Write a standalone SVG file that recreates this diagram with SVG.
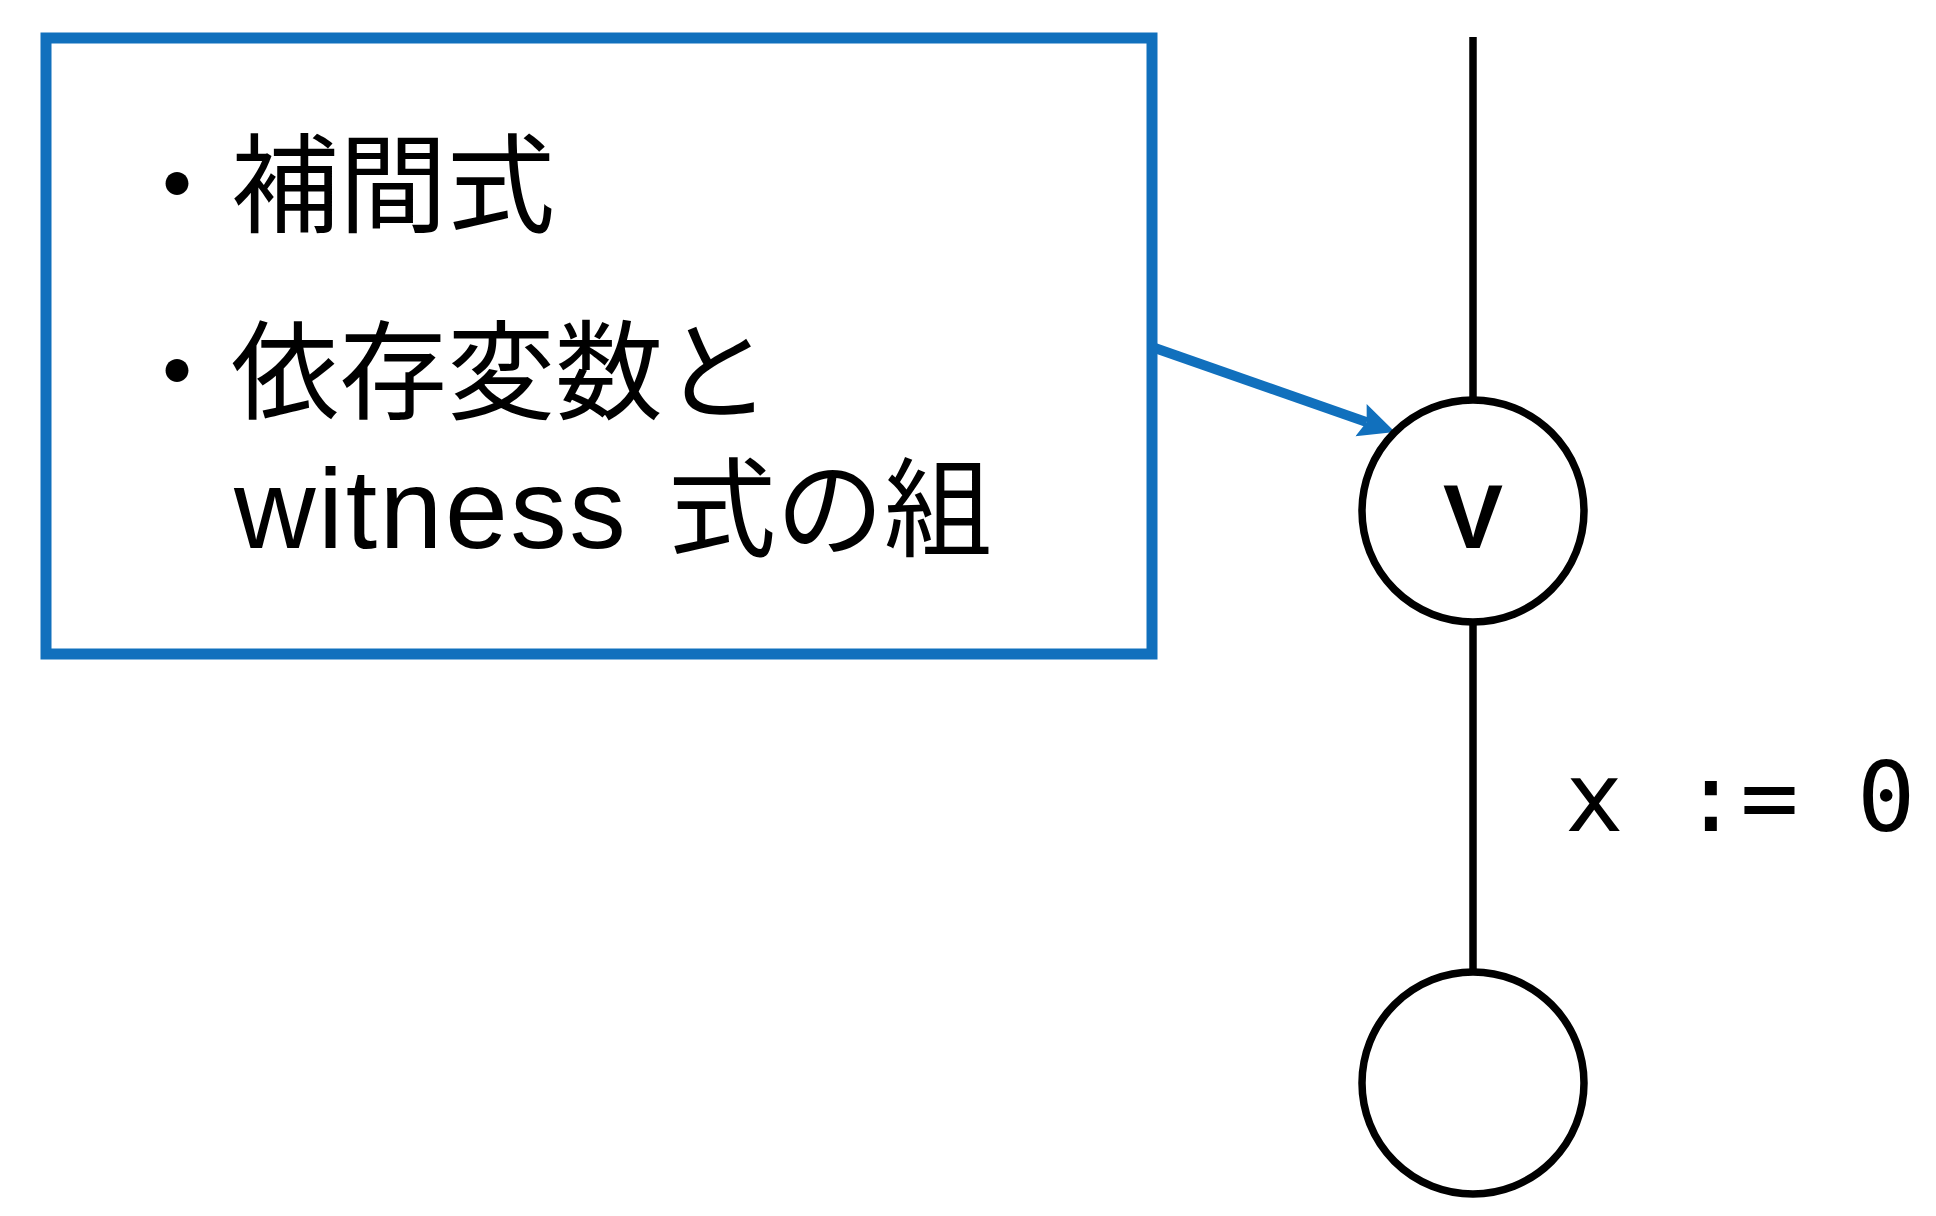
<svg xmlns="http://www.w3.org/2000/svg" width="1936" height="1216" viewBox="0 0 1936 1216">
  <style>
    .jp { font-family: "Noto Sans CJK JP", "Noto Sans CJK SC", sans-serif; font-size: 108px; fill: #000; }
    .lat { font-family: "Liberation Sans", Arial, sans-serif; font-size: 113px; letter-spacing: 2.5px; }
    .node { fill: #fff; stroke: #000; stroke-width: 7.5; }
    .edge { stroke: #000; stroke-width: 7.5; fill: none; }
    .blue { stroke: #1170bd; stroke-width: 10; fill: none; }
    .lbl { font-family: "DejaVu Sans Mono", "Liberation Mono", monospace; font-size: 97px; fill: #000; }
    .nodetxt { font-family: "Liberation Sans", Arial, sans-serif; font-size: 90px; font-weight: bold; fill: #000; text-anchor: middle; }
  </style>
  <defs>
    <marker id="ah" markerUnits="userSpaceOnUse" markerWidth="40" markerHeight="36" refX="6" refY="17" orient="auto">
      <path d="M0,0 L36,17 L0,34 L6,17 Z" fill="#1170bd"/>
    </marker>
  </defs>
  <rect width="1936" height="1216" fill="#fff"/>

  <g id="connectors">
    <line class="edge" x1="1473" y1="37" x2="1473" y2="400"/>
    <line class="edge" x1="1473" y1="622" x2="1473" y2="972"/>
    <line class="blue" x1="1152" y1="347" x2="1366.7" y2="422.1" marker-end="url(#ah)"/>
  </g>

  <g id="note">
    <rect x="46" y="38" width="1106" height="616" fill="#fff" stroke="#1170bd" stroke-width="11"/>
    <text class="jp" x="123" y="224">・補間式</text>
    <text class="jp" x="123" y="411">・依存変数と</text>
    <text class="jp" y="548"><tspan class="lat" x="234">witness</tspan><tspan x="668">式の組</tspan></text>
  </g>

  <g id="node-v">
    <circle class="node" cx="1473" cy="511" r="111"/>
    <text class="nodetxt" x="1473" y="548">V</text>
  </g>

  <g id="node-bottom">
    <circle class="node" cx="1473" cy="1083" r="111"/>
  </g>

  <g id="edge-label">
    <text class="lbl" x="1565" y="831" xml:space="preserve">x := 0</text>
  </g>
</svg>
